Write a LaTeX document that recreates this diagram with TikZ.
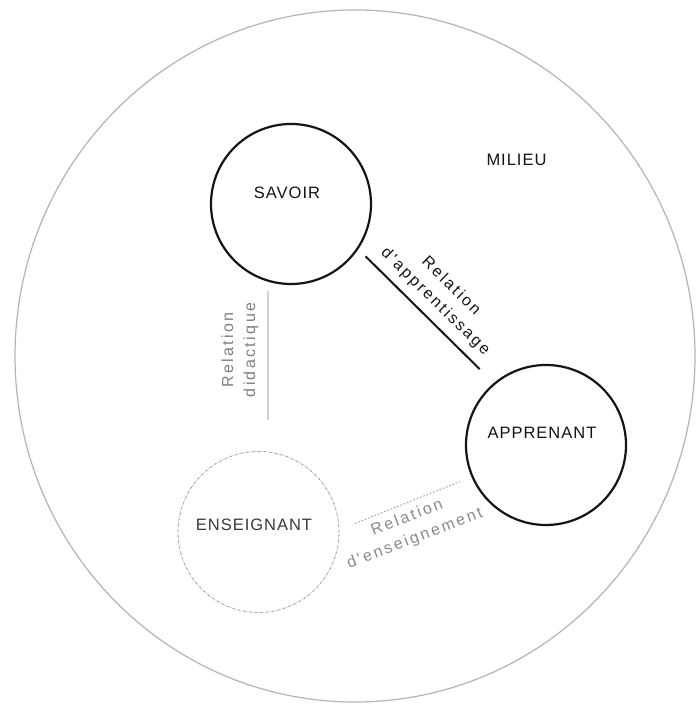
\documentclass[tikz,border=0pt]{standalone}
\usepackage{fontspec}
\setmainfont{Liberation Sans}
\newfontfamily\capsfont[LetterSpace=6]{Liberation Sans}
\newfontfamily\relfont[LetterSpace=15]{Liberation Sans}
\definecolor{milieugray}{HTML}{B4B4B4}
\definecolor{didgray}{HTML}{D2D2D2}
\definecolor{didtext}{HTML}{808080}
\definecolor{enstext}{HTML}{8A8A8A}
\definecolor{ensdark}{HTML}{3A3A3A}
\definecolor{inkblack}{HTML}{151515}
\begin{document}
\begin{tikzpicture}[x=1pt,y=1pt,
  pole/.style={circle, draw=inkblack, line width=2.2pt, minimum size=160pt, inner sep=0pt},
  faintpole/.style={circle, draw=gray!35, line width=0.7pt, minimum size=161pt, inner sep=0pt,
    postaction={draw=gray!85, line width=1pt, dash pattern=on 1.2pt off 4.5pt}},
  captext/.style={font=\capsfont\fontsize{16.5}{20}\selectfont, text=inkblack, inner sep=0pt},
  reltext/.style={font=\relfont\fontsize{16}{22}\selectfont, align=center, inner sep=0pt},
  strongline/.style={draw=inkblack, line width=2pt},
  didline/.style={draw=didgray, line width=1.4pt},
  ensline/.style={draw=gray!75, line width=1pt, dash pattern=on 1.5pt off 2pt}]
\useasboundingbox (0,0) rectangle (697,706);
\fill[white] (0,0) rectangle (697,706);
% milieu
\draw[draw=milieugray, line width=1.2pt] (355,350) ellipse [x radius=340, y radius=346];
\node[captext] (milieu) at (516.5,546) {MILIEU};
% poles
\node[pole] (savoir) at (291,502) {};
\node[pole] (apprenant) at (546,261) {};
\node[faintpole] (enseignant) at (258.5,174) {};
\node[captext] (tsavoir) at (287,513) {SAVOIR};
\node[captext] (tapprenant) at (542,273) {APPRENANT};
\node[captext, text=ensdark] (tenseignant) at (254,181) {ENSEIGNANT};
% relations
\draw[strongline] ([shift={(-35.6:10)}]savoir.-35.6) -- ([shift={(131.8:19.6)}]apprenant.131.8);
\draw[didline] ([xshift=-23pt,yshift=-6pt]savoir.south) -- ([xshift=9.5pt,yshift=31pt]enseignant.north);
\draw[ensline] ([shift={(5.3:16)}]enseignant.5.3) -- ([shift={(203.3:12.6)}]apprenant.203.3);
% labels
\node[reltext, text=inkblack, rotate=-44.7] (lapp) at (443,412) {Relation\\d'apprentissage};
\node[reltext, text=didtext, rotate=90] (ldid) at (240,356) {Relation\\didactique};
\node[reltext, text=enstext, rotate=21] (lens) at (411,177.5) {Relation\\d'enseignement};
\end{tikzpicture}
\end{document}
